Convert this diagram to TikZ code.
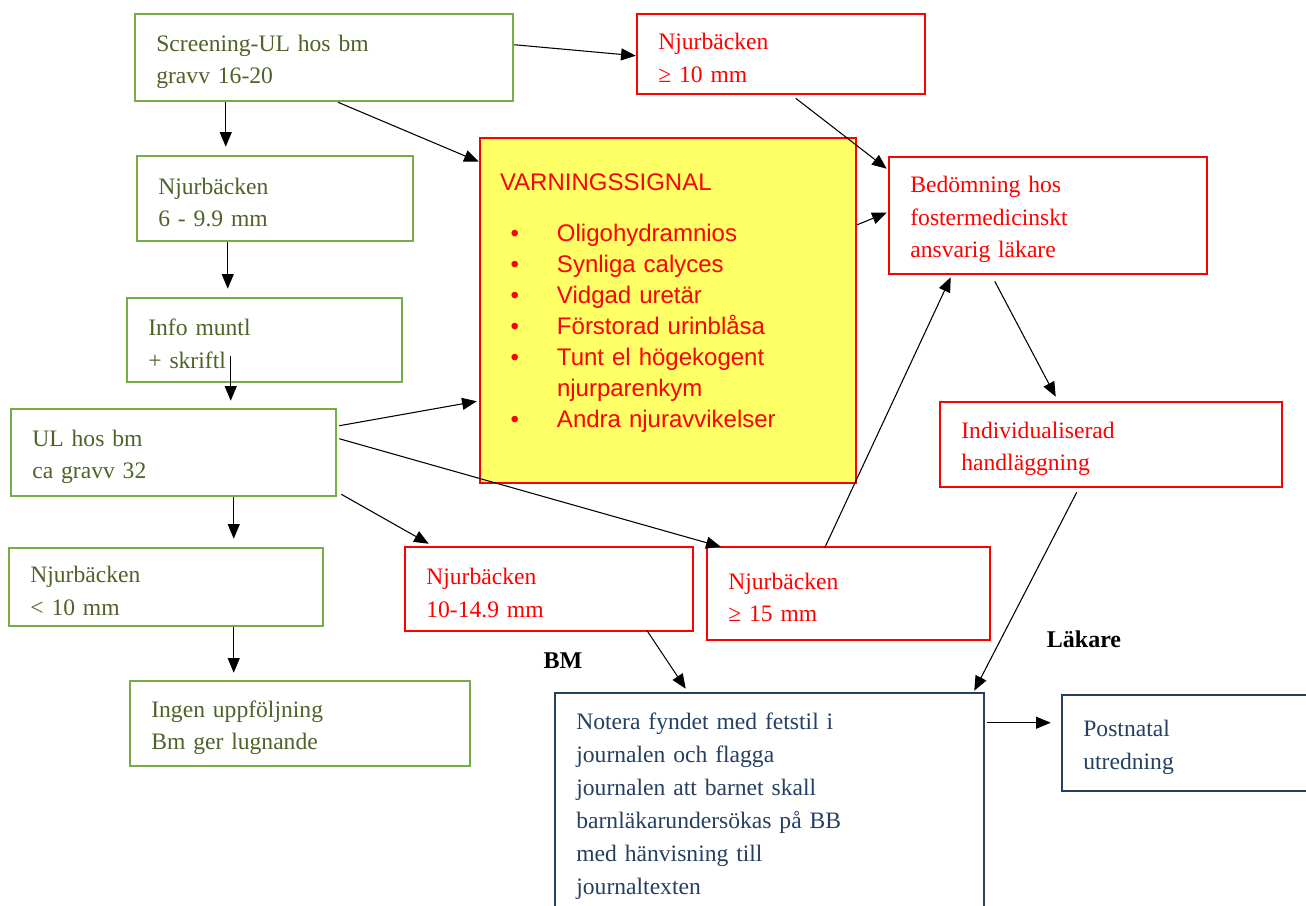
\documentclass[tikz,border=0pt]{standalone}
\usepackage{fontspec}
\setmainfont{Liberation Serif}
\setsansfont{Liberation Sans}
\usetikzlibrary{arrows.meta,calc}

\definecolor{grnline}{RGB}{119,171,72}
\definecolor{grntxt}{RGB}{79,98,40}
\definecolor{navy}{RGB}{36,63,96}
\definecolor{signal}{RGB}{255,255,102}

\tikzset{
  frame/.style={draw, rectangle, line width=1.9pt, align=left, inner ysep=2pt},
  box/.style={frame, inner xsep=16pt, font=\fontsize{17.7}{24.4}\selectfont,
    execute at begin node={\rule{0pt}{18.5pt}}},
  grnbox/.style={box, draw=grnline, text=grntxt},
  redbox/.style={box, draw=red, text=red},
  bluebox/.style={box, draw=navy, text=navy},
  signalbox/.style={frame, draw=red, fill=signal, text=red, inner xsep=15pt,
    font=\sffamily\fontsize{18}{23.25}\selectfont},
  arr/.style={-{Triangle[length=11pt,width=9pt]}, line width=0.8pt, draw=black},
  tag/.style={inner sep=0pt, font=\fontsize{18}{22}\selectfont\bfseries}
}

\newcommand{\warnitem}[1]{\hspace*{8pt}\makebox[34.75pt][l]{\textbullet}#1}

\begin{document}
\begin{tikzpicture}[x=0.75pt,y=0.75pt,yscale=-1,xscale=1]
\useasboundingbox (0,0) rectangle (1306,906);
\clip (0,0) rectangle (1306,906);

%Shape: Rectangle, left column
\node[grnbox, text width=251.5pt, minimum height=65.25pt] (screen) at (324,57.5) {Screening-UL hos bm\\gravv 16-20};
\node[grnbox, text width=175pt, minimum height=63.75pt] (nj6) at (275,198.5) {Njurbäcken\\6 - 9.9 mm};
\node[grnbox, text width=174.25pt, minimum height=63pt] (info) at (264.5,340) {Info muntl\\+ skriftl};
\node[grnbox, text width=211.75pt, minimum height=65.25pt] (ul32) at (173.5,452.5) {UL hos bm\\ca gravv 32};
\node[grnbox, text width=203.5pt, minimum height=58.5pt] (njlt10) at (166,587) {Njurbäcken\\< 10 mm};
\node[grnbox, text width=223pt, minimum height=63.75pt] (ingen) at (300,723.5) {Ingen uppföljning\\Bm ger lugnande};

%Shape: Rectangle, warning signs
\node[signalbox, text width=252pt, minimum height=258.75pt] (varning) at (668,310.5)
  {VARNINGSSIGNAL\\[15pt]
   \warnitem{Oligohydramnios}\\
   \warnitem{Synliga calyces}\\
   \warnitem{Vidgad uretär}\\
   \warnitem{Förstorad urinblåsa}\\
   \warnitem{Tunt el högekogent}\\
   \hspace*{42.75pt}njurparenkym\\
   \warnitem{Andra njuravvikelser}\\[-9pt]\mbox{}};

%Shape: Rectangle, red column
\node[redbox, text width=184pt, minimum height=60pt] (nj10top) at (781,54) {Njurbäcken\\≥ 10 mm};
\node[redbox, text width=206.5pt, minimum height=87.75pt] (bedom) at (1048,215.5) {Bedömning hos\\fostermedicinskt\\ansvarig läkare};
\node[redbox, text width=224.5pt, minimum height=63.75pt] (indiv) at (1111,444.5) {Individualiserad\\handläggning};
\node[redbox, text width=184pt, minimum height=63pt] (nj1014) at (549,589) {Njurbäcken\\10-14.9 mm};
\node[redbox, text width=180.25pt, minimum height=69.75pt] (nj15) at (848.5,593.5) {Njurbäcken\\≥ 15 mm};

%Shape: Rectangle, follow-up
\node[bluebox, text width=289.75pt, minimum height=164.25pt, font=\fontsize{17.7}{24.75}\selectfont] (notera) at (769.5,802.5)
  {Notera fyndet med fetstil i\\journalen och flagga\\journalen att barnet skall\\barnläkarundersökas på BB\\med hänvisning till\\journaltexten};
\node[bluebox, text width=169pt, minimum height=72pt] (postnatal) at (1196,743) {Postnatal\\utredning};

% Text Node
\node[tag] (bm) at (563,661) {BM};
% Text Node
\node[tag] (lakare) at (1084,639) {Läkare};

%Straight Lines
\draw[arr] ($(screen.north east)+(0,32)$) -- ($(nj10top.north west)+(0,43)$);
\draw[arr] ($(screen.south)+(14,0)$) -- ($(varning.north west)+(0,25)$);
\draw[arr] ($(screen.south west)+(92,0)$) -- ($(nj6.north west)+(90,-8)$);
\draw[arr] ($(nj6.south west)+(92,0)$) -- ($(info.north west)+(102,-8)$);
\draw[arr] ($(info.south west)+(105,-27)$) -- ($(ul32.north west)+(221,-7)$);
\draw[arr] ($(ul32.north east)+(2,18)$) -- ($(varning.south west)+(-2,-83)$);
\draw[arr] ($(ul32.north east)+(2,31)$) -- ($(nj15.north west)+(15,1)$);
\draw[arr] ($(ul32.south east)+(4,-3)$) -- ($(nj1014.north west)+(25,-2)$);
\draw[arr] ($(ul32.south west)+(224,0)$) -- ($(njlt10.north west)+(226,-8)$);
\draw[arr] ($(njlt10.south west)+(226,0)$) -- ($(ingen.north west)+(105,-7)$);
\draw[arr] ($(nj10top.south west)+(160,3)$) -- ($(bedom.north west)+(-1,13)$);
\draw[arr] ($(varning.north east)+(0,88)$) -- ($(bedom.north west)+(-1,57)$);
\draw[arr] ($(nj15.north west)+(119,2)$) -- ($(bedom.south west)+(63,2)$);
\draw[arr] ($(bedom.south west)+(107,6)$) -- ($(indiv.north west)+(117,-4)$);
\draw[arr] ($(indiv.south west)+(138,4)$) -- ($(notera.north east)+(-11,-1)$);
\draw[arr] ($(nj1014.south west)+(243,-2)$) -- ($(notera.north west)+(132,-3)$);
\draw[arr] ($(notera.north east)+(2,31)$) -- ($(postnatal.north west)+(-10,29)$);

\end{tikzpicture}
\end{document}
